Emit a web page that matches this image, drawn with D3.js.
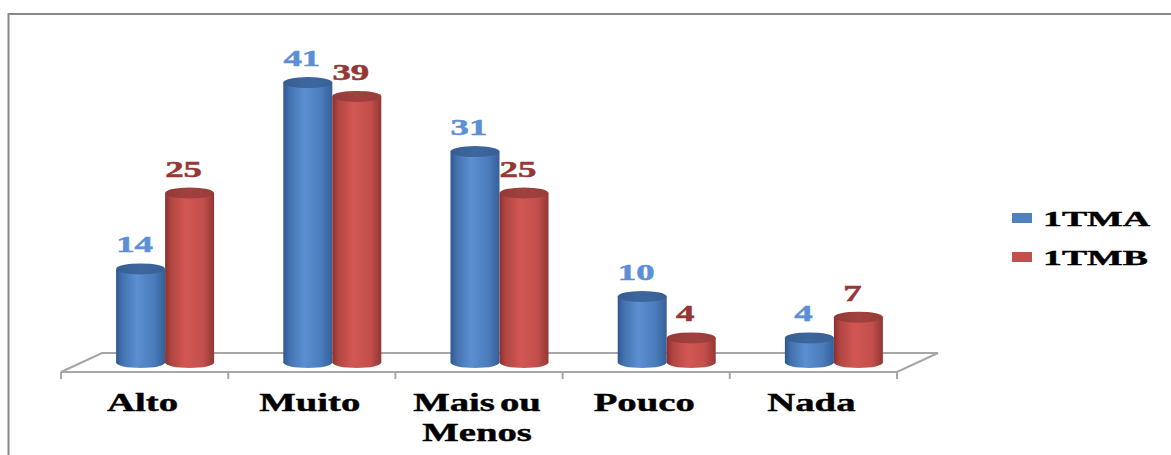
<!DOCTYPE html>
<html>
<head>
<meta charset="utf-8">
<script src="https://cdn.jsdelivr.net/npm/d3@7"></script>
<style>
  html, body { margin: 0; padding: 0; background: #fff; }
  svg { display: block; }
</style>
</head>
<body>
<svg id="chart" width="1171" height="455"></svg>
<script>
// Categories and series values
const categories = ["Alto", "Muito", "Mais ou Menos", "Pouco", "Nada"];
const categoryLines = [["Alto"], ["Muito"], ["Mais ou", "Menos"], ["Pouco"], ["Nada"]];
const seriesNames = ["1TMA", "1TMB"];
const valuesTMA = [14, 41, 31, 10, 4];
const valuesTMB = [25, 39, 25, 4, 7];

const FONT = "'Liberation Serif', 'Times New Roman', Times, serif";
const svg = d3.select("#chart");
const W = 1171, H = 455;

// Outer frame of the chart area
svg.append("rect")
  .attr("x", 8.5).attr("y", 14)
  .attr("width", W + 20).attr("height", H + 20)
  .attr("fill", "#fff").attr("stroke", "#878787").attr("stroke-width", 2);

// Floor geometry (front edge, depth offset)
const floorFrontY = 372;
const depthDX = 41, depthDY = -19;
const x = d3.scaleBand().domain(categories).range([61, 897]).padding(0);
const y = d3.scaleLinear().domain([0, 45]).range([365.5, 55]);
const cylW = 49, ry = 5.5;
const xs = d3.scaleBand().domain(seriesNames).range([-cylW, cylW]).padding(0);

const series = [
  { name: seriesNames[0], values: valuesTMA, label: "#5B8FD6", top: "#3C679F", legend: "#4F81BD",
    stops: [["0%", "#2E5790"], ["12%", "#4371AE"], ["42%", "#5B8FD1"], ["78%", "#4A7BBB"], ["100%", "#365F97"]] },
  { name: seriesNames[1], values: valuesTMB, label: "#953735", top: "#A2413E", legend: "#C0504D",
    stops: [["0%", "#8A302E"], ["12%", "#B14542"], ["42%", "#D25754"], ["78%", "#C24F4C"], ["100%", "#933634"]] }
];

const defs = svg.append("defs");
series.forEach((s, i) => {
  const g = defs.append("linearGradient").attr("id", "body" + i)
    .attr("x1", "0%").attr("x2", "100%").attr("y1", "0%").attr("y2", "0%");
  s.stops.forEach(st => g.append("stop").attr("offset", st[0]).attr("stop-color", st[1]));
  const t = defs.append("linearGradient").attr("id", "top" + i)
    .attr("x1", "0%").attr("x2", "100%").attr("y1", "0%").attr("y2", "0%");
  t.append("stop").attr("offset", "0%").attr("stop-color", d3.color(s.top).darker(0.3));
  t.append("stop").attr("offset", "50%").attr("stop-color", s.top);
  t.append("stop").attr("offset", "100%").attr("stop-color", d3.color(s.top).darker(0.2));
});

// Floor
const floor = svg.append("g").attr("stroke", "#A6A6A6").attr("stroke-width", 2).attr("fill", "none");
const x0 = x.range()[0], x1 = x.range()[1];
floor.append("path").attr("d",
  `M${x0},${floorFrontY} L${x0 + depthDX},${floorFrontY + depthDY} L${x1 + depthDX},${floorFrontY + depthDY} L${x1},${floorFrontY} Z`);
const ticks = categories.map(c => x(c)).concat([x1]);
floor.selectAll("line.tick").data(ticks).join("line")
  .attr("x1", d => d).attr("x2", d => d)
  .attr("y1", floorFrontY).attr("y2", floorFrontY + 7);

// Cylinders
const baseY = floorFrontY + depthDY / 2;
const bars = svg.append("g");
categories.forEach((c, ci) => {
  const cx0 = x(c) + x.bandwidth() / 2 + depthDX / 2;
  series.forEach((s, si) => {
    const left = cx0 + xs(s.name);
    const right = left + cylW;
    const rx = cylW / 2;
    const topY = y(s.values[ci]);
    const g = bars.append("g");
    g.append("path")
      .attr("d", `M${left},${topY} L${left},${baseY} A${rx},${ry} 0 0 0 ${right},${baseY} L${right},${topY} Z`)
      .attr("fill", `url(#body${si})`);
    g.append("ellipse")
      .attr("cx", left + rx).attr("cy", topY)
      .attr("rx", rx).attr("ry", ry)
      .attr("fill", `url(#top${si})`);
    // value label
    const lx = left + rx - 6, ly = topY - ry - 11;
    g.append("text")
      .attr("transform", `translate(${lx},${ly}) scale(1.6,1)`)
      .attr("text-anchor", "middle")
      .attr("font-family", FONT)
      .attr("font-weight", "bold")
      .attr("font-size", 23)
      .attr("fill", s.label)
      .attr("stroke", s.label).attr("stroke-width", 0.5)
      .text(s.values[ci]);
  });
});

// Category labels
const catG = svg.append("g");
categories.forEach((c, ci) => {
  const cx = x(c) + x.bandwidth() / 2;
  categoryLines[ci].forEach((line, li) => {
    catG.append("text")
      .attr("transform", `translate(${cx - 2},${411 + li * 30}) scale(1.55,1)`)
      .attr("text-anchor", "middle")
      .attr("font-family", FONT)
      .attr("font-weight", "bold")
      .attr("font-size", 25)
      .attr("word-spacing", -3)
      .attr("fill", "#000")
      .attr("stroke", "#000").attr("stroke-width", 0.4)
      .text(line);
  });
});

// Legend
const leg = svg.append("g");
series.forEach((s, i) => {
  const ly = 213 + i * 39;
  leg.append("rect").attr("x", 1012).attr("y", ly).attr("width", 20).attr("height", 10).attr("fill", s.legend);
  leg.append("text")
    .attr("transform", `translate(1043,${ly + 13}) scale(1.8,1)`)
    .attr("font-family", FONT)
    .attr("font-weight", "bold")
    .attr("font-size", 21)
    .attr("fill", "#000")
    .attr("stroke", "#000").attr("stroke-width", 0.4)
    .text(s.name);
});
</script>
</body>
</html>
